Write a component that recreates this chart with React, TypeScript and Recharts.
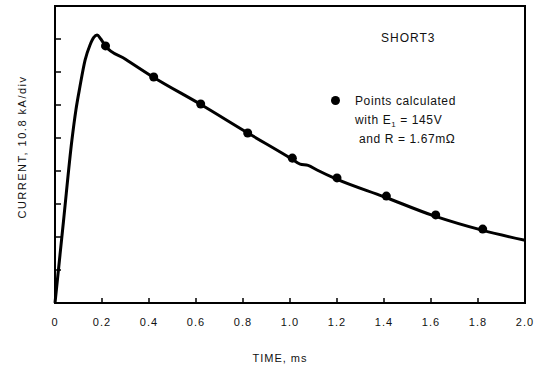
import {
  ComposedChart,
  Line,
  Scatter,
  XAxis,
  YAxis,
  ReferenceArea,
} from 'recharts';

// measured current trace (time in ms, current in divisions of 10.8 kA)
const traceTime = [
  0, 0.036, 0.072, 0.089, 0.106, 0.128, 0.149, 0.165, 0.179, 0.195,
  0.213, 0.3, 0.417, 0.617, 0.821, 1.009, 1.043, 1.077, 1.115, 1.196, 1.4, 1.613, 1.821, 2.0,
];
const traceCurrent = [
  0, 2.47, 4.94, 5.85, 6.55, 7.36, 7.82, 8.05, 8.12, 8.0,
  7.8, 7.39, 6.85, 6.03, 5.15, 4.36, 4.21, 4.17, 4.03, 3.76, 3.22, 2.64, 2.2, 1.9,
];

// calculated points
const calcTime = [0.215, 0.42, 0.62, 0.82, 1.01, 1.2, 1.41, 1.62, 1.82];
const calcCurrent = [7.79, 6.85, 6.03, 5.15, 4.39, 3.79, 3.24, 2.67, 2.24];

const xTicks = [0, 0.2, 0.4, 0.6, 0.8, 1.0, 1.2, 1.4, 1.6, 1.8, 2.0];
const xTickLabels = ['0', '0.2', '0.4', '0.6', '0.8', '1.0', '1.2', '1.4', '1.6', '1.8', '2.0'];
const yTicks = [0, 1, 2, 3, 4, 5, 6, 7, 8, 9];

const trace = traceTime.map((t, i) => ({ t, i: traceCurrent[i] }));
const calc = calcTime.map((t, i) => ({ t, i: calcCurrent[i] }));

const FONT = '"Liberation Sans", Arial, sans-serif';

function XTick(props: any) {
  const { x, y, payload, index } = props;
  const inner = payload.value > 0 && payload.value < 2;
  return (
    <g>
      {inner && <line x1={x} y1={y} x2={x} y2={y - 5} stroke="#000" strokeWidth={1.5} />}
      <text
        x={x}
        y={y + 23}
        textAnchor="middle"
        fontSize={11}
        fontFamily={FONT}
        letterSpacing={1}
        fill="#111"
      >
        {xTickLabels[index] ?? payload.value}
      </text>
    </g>
  );
}

function YTick(props: any) {
  const { x, y, payload } = props;
  if (payload.value <= 0 || payload.value >= 9) return <g />;
  return <line x1={x} y1={y} x2={x + 6} y2={y} stroke="#000" strokeWidth={1.5} />;
}

export default function App() {
  return (
    <div style={{ position: 'absolute', left: 0, top: 0, width: 537, height: 378, background: '#fff', fontFamily: FONT }}>
      <ComposedChart width={537} height={378} margin={{ top: 6, right: 12, left: 0, bottom: 0 }}>
        <XAxis
          dataKey="t"
          type="number"
          domain={[0, 2]}
          ticks={xTicks}
          height={75}
          tickSize={0}
          tickMargin={0}
          interval={0}
          tick={<XTick />}
          axisLine={{ stroke: '#000', strokeWidth: 2 }}
          tickLine={false}
          label={{
            value: 'TIME, ms',
            position: 'insideBottom',
            offset: 16,
            dx: -10,
            fontSize: 11,
            fontFamily: FONT,
            letterSpacing: 1,
            fill: '#111',
          }}
        />
        <YAxis
          dataKey="i"
          type="number"
          domain={[0, 9]}
          ticks={yTicks}
          width={55}
          tickSize={0}
          tickMargin={0}
          interval={0}
          tick={<YTick />}
          axisLine={{ stroke: '#000', strokeWidth: 2 }}
          tickLine={false}
        />
        <ReferenceArea x1={0} x2={2} y1={0} y2={9} fill="none" stroke="#000" strokeWidth={2} />
        <Line
          data={trace}
          dataKey="i"
          type="monotone"
          stroke="#000"
          strokeWidth={3}
          dot={false}
          isAnimationActive={false}
        />
        <Scatter data={calc} dataKey="i" fill="#000" shape="circle" isAnimationActive={false} />
      </ComposedChart>
      <div
        style={{
          position: 'absolute',
          left: 22,
          top: 147,
          transform: 'translate(-50%, -50%) rotate(-90deg)',
          whiteSpace: 'nowrap',
          fontSize: 11,
          letterSpacing: 1.5,
          color: '#111',
        }}
      >
        CURRENT, 10.8 kA/div
      </div>
      <div style={{ position: 'absolute', left: 381, top: 31, fontSize: 12, letterSpacing: 1, color: '#111' }}>SHORT3</div>
      <div style={{ position: 'absolute', left: 331, top: 96, width: 9, height: 9, borderRadius: '50%', background: '#000' }} />
      <div style={{ position: 'absolute', left: 355, top: 92, fontSize: 12, letterSpacing: 0.6, color: '#111', lineHeight: '19px' }}>
        Points calculated
        <br />
        with E<span style={{ fontSize: 8, position: 'relative', top: 3, lineHeight: 0 }}>1</span> = 145V
        <br />
        &nbsp;and R = 1.67mΩ
      </div>
    </div>
  );
}
